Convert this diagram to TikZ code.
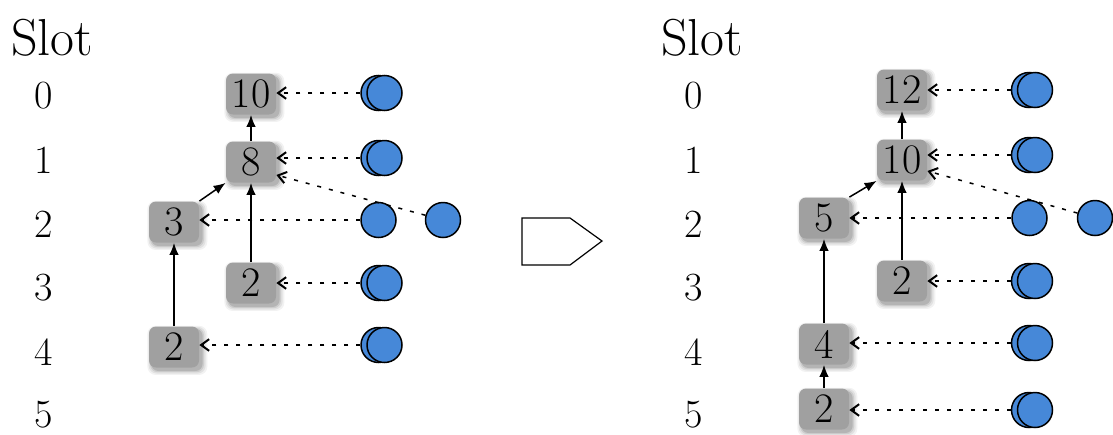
\documentclass[tikz,border=0pt]{standalone}
\usetikzlibrary{arrows.meta,shadows,calc}
\definecolor{boxgray}{HTML}{A0A0A0}
\definecolor{dotblue}{RGB}{70,136,216}
\begin{document}
\begin{tikzpicture}[x=0.5pt,y=-0.5pt,
  slotlbl/.style={inner sep=0pt,font=\fontsize{20}{24}\selectfont},
  slothead/.style={inner sep=0pt,anchor=base west,font=\fontsize{26}{30}\selectfont},
  valbox/.style={fill=boxgray,rounded corners=3.5pt,minimum width=25pt,minimum height=20.5pt,inner sep=0pt,
    font=\fontsize{21}{24}\selectfont,
    drop shadow={shadow xshift=1.4pt,shadow yshift=-1.4pt,opacity=0.05,fill=black,shadow scale=1.2},
    drop shadow={shadow xshift=1.4pt,shadow yshift=-1.4pt,opacity=0.07,fill=black,shadow scale=1.14},
    drop shadow={shadow xshift=1.4pt,shadow yshift=-1.4pt,opacity=0.09,fill=black,shadow scale=1.08},
    drop shadow={shadow xshift=1.4pt,shadow yshift=-1.4pt,opacity=0.12,fill=black,shadow scale=1.03}},
  ball/.style={circle,draw=black,line width=0.75pt,fill=dotblue,minimum size=17.5pt,inner sep=0pt},
  link/.style={-{Latex[length=6pt,width=4.8pt]},line width=0.75pt},
  feed/.style={-{Straight Barb[length=4pt,width=5.8pt,line width=1pt]},line width=0.75pt,dash pattern=on 2pt off 4pt}]
\useasboundingbox (0,0) rectangle (1113,434);

% ---------- left panel ----------
\node[slothead] (hl) at (11,55) {Slot};
\foreach \i/\yy in {0/96,1/160,2/224,3/288,4/352,5/415}
  \node[slotlbl] (ll\i) at (44,\yy) {\i};

\node[valbox] (b10) at (251,94) {10};
\node[valbox] (b8) at (251,162) {8};
\node[valbox] (b3) at (174,222) {3};
\node[valbox] (b2a) at (251,283) {2};
\node[valbox] (b2b) at (174,347) {2};

\node[ball] (c0b) at (378.5,93) {};
\node[ball] (c0f) at (384.5,93) {};
\node[ball] (c1b) at (378.5,158) {};
\node[ball] (c1f) at (384.5,158) {};
\node[ball] (s2) at (378.5,220) {};
\node[ball] (c3b) at (378.5,283) {};
\node[ball] (c3f) at (384.5,283) {};
\node[ball] (c4b) at (378.5,345) {};
\node[ball] (c4f) at (384.5,345) {};
\node[ball] (e1) at (443,220) {};

\draw[link] (b8.north) -- (b10.south);
\draw[link] (b3.north east) -- (b8.south west);
\draw[link] (b2a.north) -- (b8.south);
\draw[link] (b2b.north) -- (b3.south);

\draw[feed] (c0b.west) -- (c0b.west -| b10.east);
\draw[feed] (c1b.west) -- (c1b.west -| b8.east);
\draw[feed] (s2.west) -- (s2.west -| b3.east);
\draw[feed] (c3b.west) -- (c3b.west -| b2a.east);
\draw[feed] (c4b.west) -- (c4b.west -| b2b.east);
\coordinate (t8) at ($(b8.east)+(0,13)$);
\draw[feed] (e1) -- (t8);

% ---------- transformation arrow ----------
\draw[line width=0.6pt] (522,218) -- (570,218) -- (602,241) -- (570,265) -- (522,265) -- cycle;

% ---------- right panel ----------
\node[slothead] (hr) at (661,55) {Slot};
\foreach \i/\yy in {0/96,1/160,2/224,3/288,4/352,5/415}
  \node[slotlbl] (rl\i) at (694,\yy) {\i};

\node[valbox] (r12) at (902,90) {12};
\node[valbox] (r10) at (902,160) {10};
\node[valbox] (r5) at (824,218) {5};
\node[valbox] (r2a) at (902,281) {2};
\node[valbox] (r4) at (824,344) {4};
\node[valbox] (r2b) at (824,409) {2};

\node[ball] (rc0b) at (1029,90) {};
\node[ball] (rc0f) at (1035,90) {};
\node[ball] (rc1b) at (1029,155) {};
\node[ball] (rc1f) at (1035,155) {};
\node[ball] (rs2) at (1029.5,218) {};
\node[ball] (rc3b) at (1029,281) {};
\node[ball] (rc3f) at (1035,281) {};
\node[ball] (rc4b) at (1029,343) {};
\node[ball] (rc4f) at (1035,343) {};
\node[ball] (rc5b) at (1029,410) {};
\node[ball] (rc5f) at (1035,410) {};
\node[ball] (re1) at (1095,218) {};

\draw[link] (r10.north) -- (r12.south);
\draw[link] (r5.north east) -- (r10.south west);
\draw[link] (r2a.north) -- (r10.south);
\draw[link] (r4.north) -- (r5.south);
\draw[link] (r2b.north) -- (r4.south);

\draw[feed] (rc0b.west) -- (rc0b.west -| r12.east);
\draw[feed] (rc1b.west) -- (rc1b.west -| r10.east);
\draw[feed] (rs2.west) -- (rs2.west -| r5.east);
\draw[feed] (rc3b.west) -- (rc3b.west -| r2a.east);
\draw[feed] (rc4b.west) -- (rc4b.west -| r4.east);
\draw[feed] (rc5b.west) -- (rc5b.west -| r2b.east);
\coordinate (t10) at ($(r10.east)+(0,11)$);
\draw[feed] (re1) -- (t10);
\end{tikzpicture}
\end{document}
